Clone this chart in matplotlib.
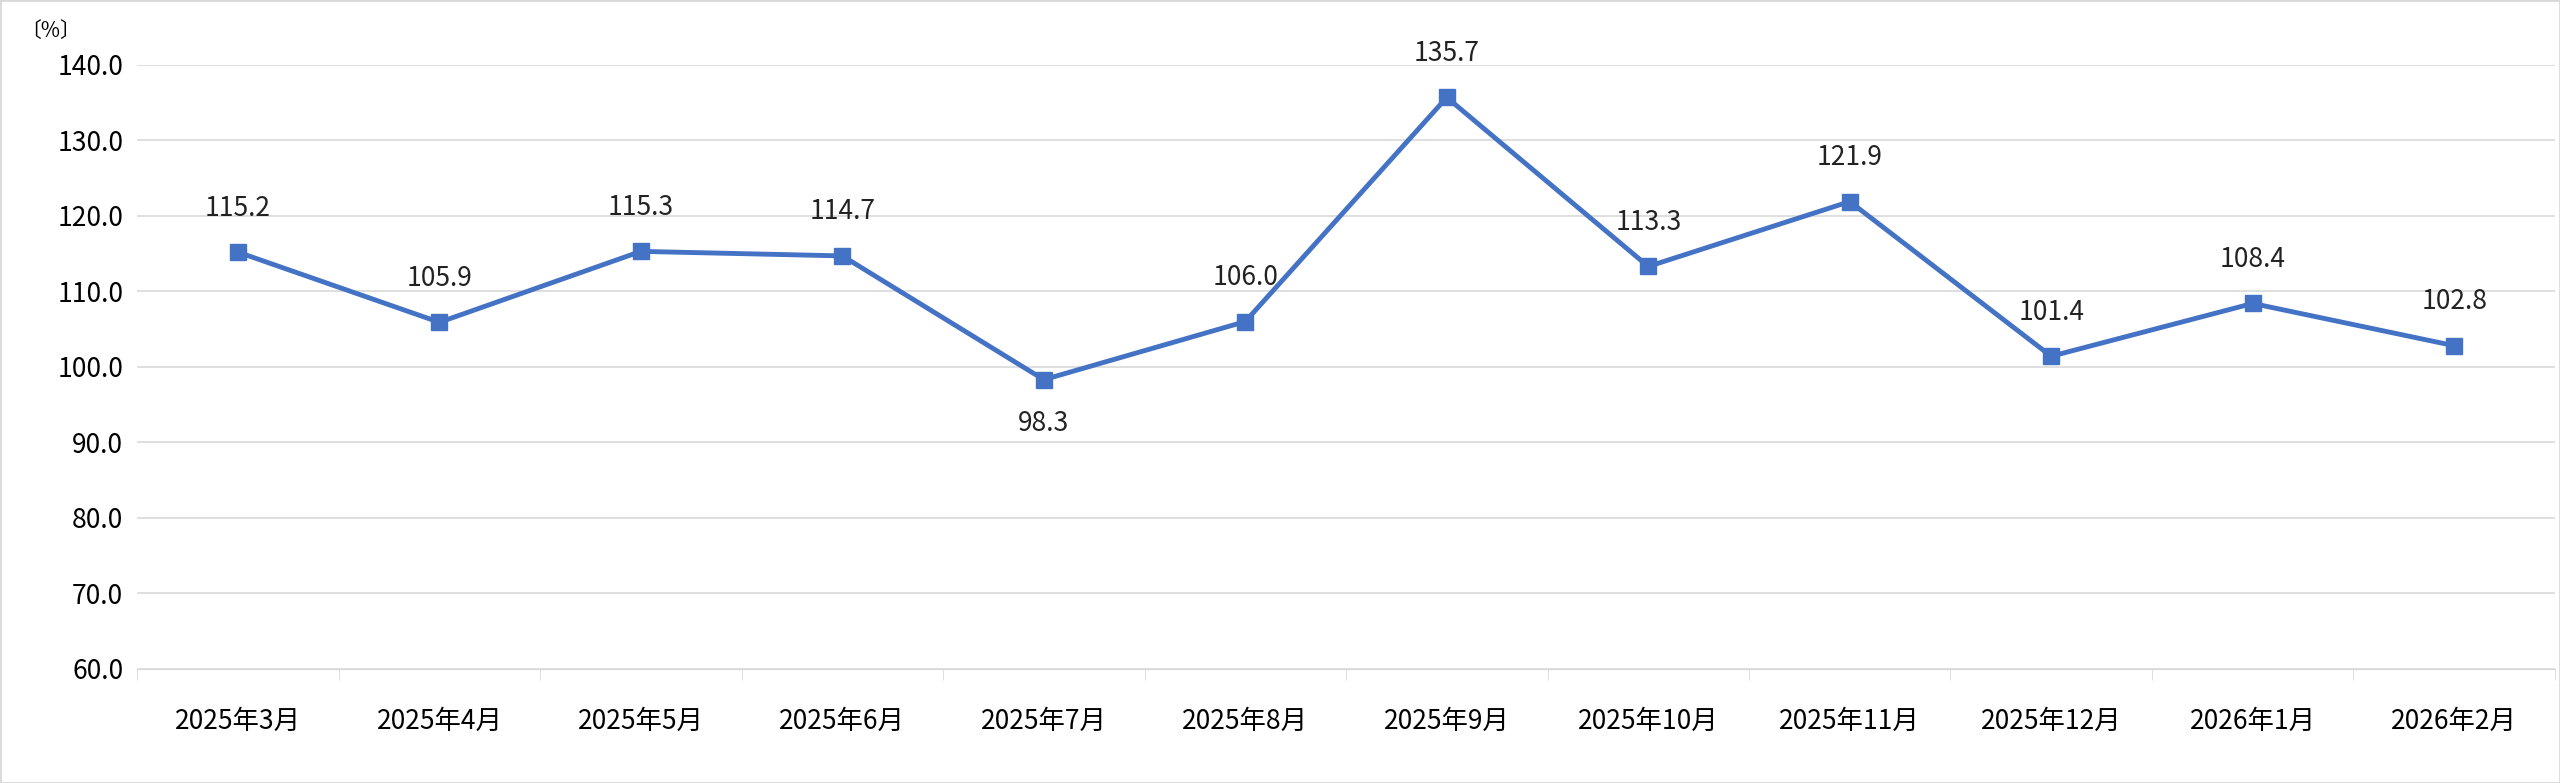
import matplotlib
matplotlib.use("Agg")
import matplotlib.pyplot as plt

plt.rcParams['font.family'] = ['Noto Sans CJK JP', 'DejaVu Sans']

months = ["2025年3月","2025年4月","2025年5月","2025年6月","2025年7月","2025年8月",
          "2025年9月","2025年10月","2025年11月","2025年12月","2026年1月","2026年2月"]
values = [115.2,105.9,115.3,114.7,98.3,106.0,135.7,113.3,121.9,101.4,108.4,102.8]
label_below = [False,False,False,False,True,False,False,False,False,False,False,False]
yticks = [60,70,80,90,100,110,120,130,140]

fig = plt.figure(figsize=(25.6,7.83), dpi=100)
ax = fig.add_axes([0.0536,0.146,0.9444,0.771])
x = list(range(len(months)))
ax.plot(x, values, color='#4472C4', lw=3.5, marker='s', ms=12, zorder=3)
for xi, v, b in zip(x, values, label_below):
    ax.annotate(f"{v:.1f}", (xi, v), xytext=(0, -22 if b else 22), textcoords='offset points',
                ha='center', va='top' if b else 'bottom', fontsize=19, color='#222222')
ax.set_xlim(-0.5, len(months)-0.5)
ax.set_ylim(60,140)
ax.set_yticks(yticks)
ax.set_yticklabels([f"{t:.1f}" for t in yticks], fontsize=19)
ax.set_xticks(x)
ax.set_xticklabels(months, fontsize=19)
ax.set_xticks([i+0.5 for i in range(-1, len(months))], minor=True)
ax.tick_params(axis='x', which='major', length=0, pad=28)
ax.tick_params(axis='x', which='minor', length=8, color='#d9d9d9')
ax.tick_params(axis='y', length=0, pad=10)
ax.grid(axis='y', color='#d9d9d9', lw=1.2)
ax.set_axisbelow(True)
for s in ['top','right','left']:
    ax.spines[s].set_visible(False)
ax.spines['bottom'].set_color('#d9d9d9')
fig.text(0.008, 0.96, "〔%〕", fontsize=15, ha='left', va='center')
fig.patches.append(plt.Rectangle((0,0),1,1, transform=fig.transFigure, fill=False,
                                 edgecolor='#d9d9d9', lw=2))
fig.savefig("out.png", dpi=100)
